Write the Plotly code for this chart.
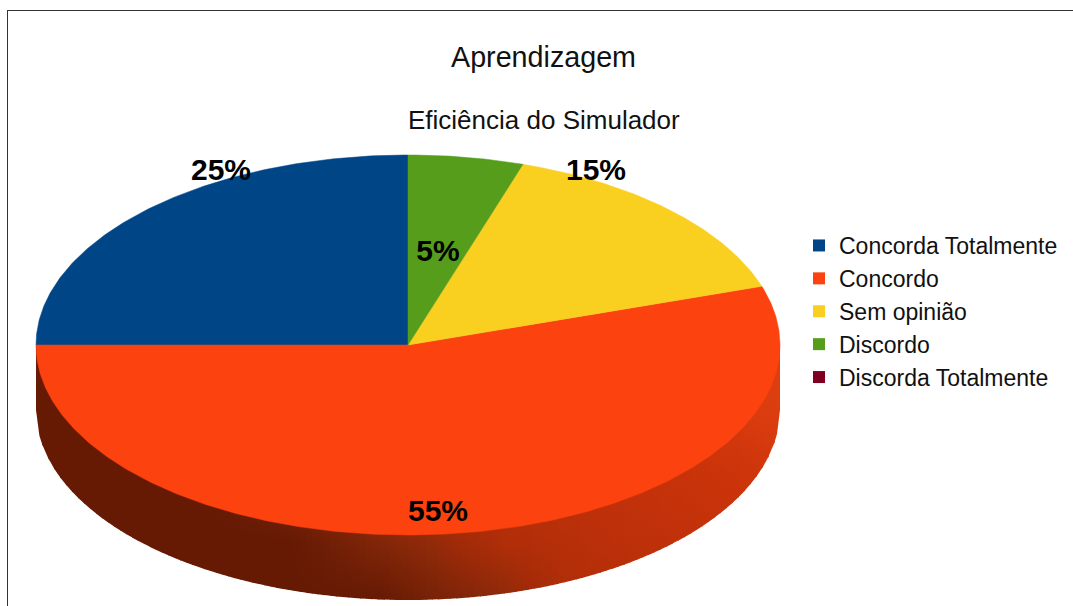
import numpy as np
import plotly.graph_objects as go

categories = ["Concorda Totalmente", "Concordo", "Sem opinião", "Discordo", "Discorda Totalmente"]
values = [25, 55, 15, 5, 0]
colors = ["#004586", "#fc420e", "#f9cf20", "#579d1c", "#7e0021"]
title_text = "Aprendizagem"
subtitle_text = "Eficiência do Simulador"

W, H = 1073, 606
CX, CY, RX, RY, DEPTH = 408, 345, 372, 190, 65
FONT = "Liberation Sans"
label_pos = {"Concorda Totalmente": (221, 172), "Concordo": (438, 513),
             "Sem opinião": (596, 172), "Discordo": (438, 253)}
# shading of the side wall: colour along a diagonal coordinate
shade_s = [290, 360, 420, 450, 500, 630, 835, 980]
shade_rgb = [(0x66, 0x1a, 0x04), (0x7c, 0x24, 0x08), (0x8e, 0x2a, 0x09), (0xa0, 0x2a, 0x08),
             (0xb0, 0x2e, 0x08), (0xbd, 0x30, 0x0a), (0xcc, 0x34, 0x0a), (0xdd, 0x3e, 0x10)]


def ell(t):
    return CX - RX * np.sin(t), CY - RY * np.cos(t)


def shade(x, y):
    s = x - 1.5 * (y - 540)
    r, g, b = (np.interp(s, shade_s, [c[i] for c in shade_rgb]) for i in range(3))
    return f"rgb({r:.0f},{g:.0f},{b:.0f})"


fig = go.Figure()

# side wall of the disc, built from narrow strips so the shading can run diagonally
edges = np.linspace(CX - RX, CX + RX, 125)
for x0, x1 in zip(edges[:-1], edges[1:]):
    xs = np.linspace(x0, min(x1 + 0.8, CX + RX), 3)
    u = np.clip((xs - CX) / RX, -1, 1)
    upper = CY + RY * np.sqrt(1 - u ** 2)
    y_top, y_bot = CY, upper.max() + DEPTH
    xm = (x0 + x1) / 2
    fy = np.linspace(y_top, y_bot, 6)
    fig.add_trace(go.Scatter(
        x=np.concatenate([xs, xs[::-1]]),
        y=np.concatenate([np.full(3, y_top), (upper + DEPTH)[::-1]]),
        mode="lines", fill="toself", line=dict(width=0),
        fillgradient=dict(type="vertical", start=y_top, stop=y_bot,
                          colorscale=[[(v - y_top) / (y_bot - y_top), shade(xm, v)] for v in fy]),
        showlegend=False, hoverinfo="skip"))

# top face, one wedge per value
total = sum(values)
start = 0.0
for name, v, c in zip(categories, values, colors):
    end = start + v / total * 2 * np.pi
    if v > 0:
        tt = np.linspace(start, end, max(int(v * 6), 12))
        ex, ey = ell(tt)
        fig.add_trace(go.Scatter(
            x=np.concatenate([[CX], ex, [CX]]), y=np.concatenate([[CY], ey, [CY]]),
            mode="lines", fill="toself", fillcolor=c, line=dict(width=0.5, color=c),
            showlegend=False, name=name, hoverinfo="name"))
    start = end

# legend entries
for i, (name, c) in enumerate(zip(categories, colors)):
    fig.add_trace(go.Scatter(
        x=[None], y=[None], mode="markers", name=name, legendgroup=str(i),
        marker=dict(symbol="square", size=15, color=c)))

# value labels
named = [(n, v) for n, v in zip(categories, values) if n in label_pos]
fig.add_trace(go.Scatter(
    x=[label_pos[n][0] for n, _ in named], y=[label_pos[n][1] for n, _ in named],
    text=[f"{v}%" for _, v in named], mode="text", textposition="middle center",
    textfont=dict(family=FONT, size=30, color="#000000", weight="bold"),
    showlegend=False, hoverinfo="skip", cliponaxis=False))

fig.update_layout(
    width=W, height=H, margin=dict(l=0, r=0, t=0, b=0),
    paper_bgcolor="white", plot_bgcolor="white",
    xaxis=dict(range=[0, W], visible=False, fixedrange=True),
    yaxis=dict(range=[H, 0], visible=False, fixedrange=True),
    title=dict(text=title_text, x=543.5 / W, xanchor="center", y=1 - 57 / H, yanchor="middle",
               font=dict(family=FONT, size=28.7, color="#111111")),
    annotations=[dict(text=subtitle_text, x=543.5, y=120, xref="x", yref="y", showarrow=False,
                      font=dict(family=FONT, size=26, color="#111111"))],
    legend=dict(x=806 / W, y=1 - 224 / H, xanchor="left", yanchor="top", indentation=-7,
                font=dict(family=FONT, size=23, color="#111111"),
                tracegroupgap=0, itemsizing="constant", bgcolor="rgba(0,0,0,0)"),
    shapes=[dict(type="line", x0=7.5, x1=7.5, y0=10.5, y1=H, xref="x", yref="y",
                 line=dict(color="#333333", width=1)),
            dict(type="line", x0=7, x1=W, y0=10.5, y1=10.5, xref="x", yref="y",
                 line=dict(color="#333333", width=1))],
)

fig.write_html("out.html", config={"displayModeBar": False},
               post_script="document.body.style.margin='0';document.body.style.overflow='hidden';")
